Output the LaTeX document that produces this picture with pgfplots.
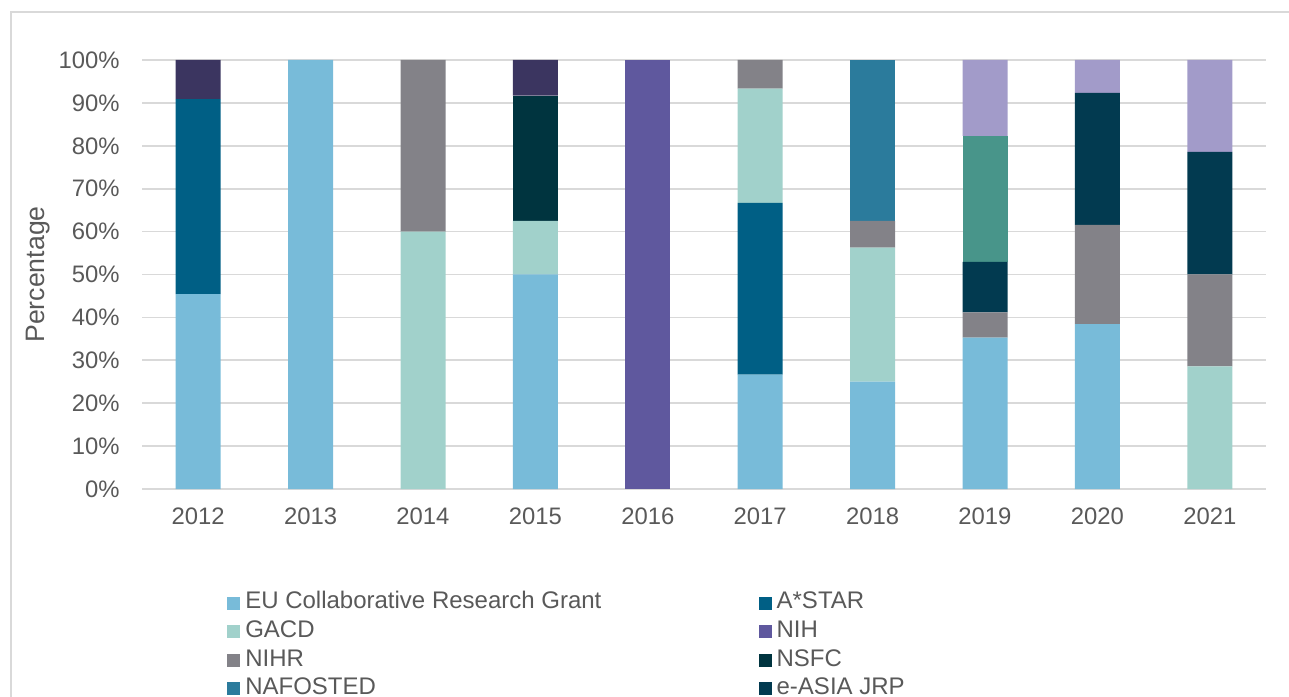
\documentclass[border=0pt]{standalone}
\usepackage{fontspec}
\setmainfont{Liberation Sans}
\usepackage{pgfplots}
\pgfplotsset{compat=1.18}

\definecolor{cEU}{HTML}{78BBD9}
\definecolor{cASTAR}{HTML}{005F85}
\definecolor{cGACD}{HTML}{A1D1CB}
\definecolor{cNIH}{HTML}{5F589E}
\definecolor{cNIHR}{HTML}{838288}
\definecolor{cNSFC}{HTML}{00343F}
\definecolor{cNAF}{HTML}{2B7B9C}
\definecolor{cEASIA}{HTML}{023A50}
\definecolor{cDPurple}{HTML}{3B3560}
\definecolor{cGreen}{HTML}{48958A}
\definecolor{cLav}{HTML}{A29BC9}
\definecolor{txtgray}{HTML}{595959}
\definecolor{gridgray}{HTML}{D9D9D9}

\newcommand\lbl{\fontsize{14.3}{16}\selectfont}
\newcommand\leg{\fontsize{14.4}{16}\selectfont}
\newcommand\ylab{\fontsize{16}{18}\selectfont}

\begin{document}
\begin{tikzpicture}[x=1pt,y=1pt]
% chart frame (cut by the picture edge on the right and bottom)
\draw[gridgray, line width=1pt] (6.6,-60) -- (6.6,410.4) -- (840,410.4);
\begin{axis}[
    at={(85.2pt,124.2pt)}, anchor=south west,
    scale only axis, width=674.4pt, height=257.4pt,
    ybar stacked, bar width=27pt,
    xmin=-0.5, xmax=9.5, ymin=0, ymax=100,
    xtick={0,...,9},
    xticklabels={2012,2013,2014,2015,2016,2017,2018,2019,2020,2021},
    ytick={0,10,...,100},
    yticklabel={\pgfmathprintnumber{\tick}\%},
    /pgf/number format/assume math mode=true,
    axis x line*=bottom, axis y line*=left,
    y axis line style={draw=none},
    x axis line style={draw=gridgray, line width=1pt},
    major tick length=0pt,
    ymajorgrids, grid style={gridgray, line width=1pt},
    tick label style={font=\lbl, text=txtgray, inner sep=0pt},
    yticklabel style={xshift=-13.2pt},
    xticklabel style={anchor=north, yshift=-11.2pt},
    ylabel={Percentage},
    ylabel style={font=\ylab, text=txtgray, at={(axis description cs:-0.0925,0.5)}, anchor=center},
    legend columns=2,
    legend image code/.code={\fill[#1] (0pt,-3.9pt) rectangle (7.8pt,3.9pt);},
    legend cell align=left,
    legend style={draw=none, fill=none, inner sep=0pt, row sep=4.16pt,
        at={(axis description cs:0.0756,-0.240)}, anchor=north west,
        nodes={inner sep=0pt, text height=10pt, text depth=3pt, font=\leg, text=txtgray},
        /tikz/every odd column/.append style={column sep=3pt}},
]
\addplot[fill=cEU, draw=none] coordinates {(0,45.45)(1,100)(2,0)(3,50)(4,0)(5,26.67)(6,25)(7,35.29)(8,38.46)(9,0)};
\addlegendentry{\makebox[308pt][l]{EU Collaborative Research Grant}}
\addplot[fill=cASTAR, draw=none] coordinates {(0,45.45)(1,0)(2,0)(3,0)(4,0)(5,40)(6,0)(7,0)(8,0)(9,0)};
\addlegendentry{A*STAR}
\addplot[fill=cGACD, draw=none] coordinates {(0,0)(1,0)(2,60)(3,12.5)(4,0)(5,26.67)(6,31.25)(7,0)(8,0)(9,28.57)};
\addlegendentry{\makebox[308pt][l]{GACD}}
\addplot[fill=cNIH, draw=none] coordinates {(0,0)(1,0)(2,0)(3,0)(4,100)(5,0)(6,0)(7,0)(8,0)(9,0)};
\addlegendentry{NIH}
\addplot[fill=cNIHR, draw=none] coordinates {(0,0)(1,0)(2,40)(3,0)(4,0)(5,6.67)(6,6.25)(7,5.88)(8,23.08)(9,21.43)};
\addlegendentry{\makebox[308pt][l]{NIHR}}
\addplot[fill=cNSFC, draw=none] coordinates {(0,0)(1,0)(2,0)(3,29.17)(4,0)(5,0)(6,0)(7,0)(8,0)(9,0)};
\addlegendentry{NSFC}
\addplot[fill=cNAF, draw=none] coordinates {(0,0)(1,0)(2,0)(3,0)(4,0)(5,0)(6,37.5)(7,0)(8,0)(9,0)};
\addlegendentry{\makebox[308pt][l]{NAFOSTED}}
\addplot[fill=cEASIA, draw=none] coordinates {(0,0)(1,0)(2,0)(3,0)(4,0)(5,0)(6,0)(7,11.76)(8,30.77)(9,28.57)};
\addlegendentry{e-ASIA JRP}
\addplot[fill=cDPurple, draw=none] coordinates {(0,9.1)(1,0)(2,0)(3,8.33)(4,0)(5,0)(6,0)(7,0)(8,0)(9,0)};
\addplot[fill=cGreen, draw=none] coordinates {(0,0)(1,0)(2,0)(3,0)(4,0)(5,0)(6,0)(7,29.41)(8,0)(9,0)};
\addplot[fill=cLav, draw=none] coordinates {(0,0)(1,0)(2,0)(3,0)(4,0)(5,0)(6,0)(7,17.66)(8,7.69)(9,21.43)};
\end{axis}
\pgfresetboundingbox
\useasboundingbox (0,0) rectangle (773.4,417.6);
\end{tikzpicture}
\end{document}
